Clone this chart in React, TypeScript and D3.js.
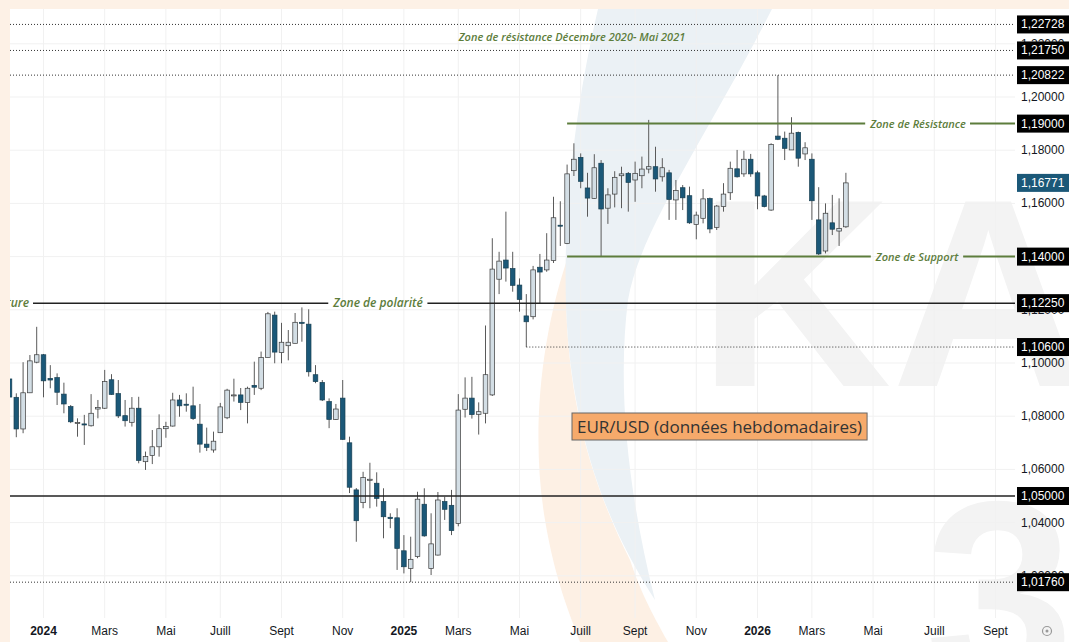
import { useEffect, useRef } from 'react';
import * as d3 from 'd3';

// Weekly EUR/USD candles, first bar = week of 27 Nov 2023
const firstWeek = new Date(Date.UTC(2023, 10, 27));

const opens = [
  1.0940, 1.0871, 1.0752, 1.0888, 1.1003, 1.1031, 1.0942, 1.0945, 1.0883, 1.0836,
  1.0774, 1.0771, 1.0764, 1.0827, 1.0830, 1.0937, 1.0885, 1.0802, 1.0777, 1.0830,
  1.0629, 1.0652, 1.0685, 1.0753, 1.0763, 1.0861, 1.0845, 1.0839, 1.0770, 1.0695,
  1.0673, 1.0738, 1.0794, 1.0877, 1.0880, 1.0851, 1.0916, 1.0905, 1.1021, 1.1180,
  1.1039, 1.1065, 1.1074, 1.1153, 1.1146, 1.0956, 1.0927, 1.0855, 1.0788, 1.0868,
  1.0700, 1.0523, 1.0475, 1.0559, 1.0548, 1.0479, 1.0420, 1.0418, 1.0294, 1.0228,
  1.0272, 1.0469, 1.0227, 1.0278, 1.0479, 1.0465, 1.0397, 1.0826, 1.0868, 1.0807,
  1.0811, 1.0880, 1.1315, 1.1387, 1.1355, 1.1293, 1.1177, 1.1174, 1.1360, 1.1350,
  1.1385, 1.1518, 1.1449, 1.1723, 1.1773, 1.1658, 1.1619, 1.1751, 1.1582, 1.1635,
  1.1704, 1.1713, 1.1688, 1.1704, 1.1729, 1.1738, 1.1700, 1.1715, 1.1613, 1.1659,
  1.1629, 1.1521, 1.1544, 1.1618, 1.1510, 1.1588, 1.1640, 1.1730, 1.1711, 1.1766,
  1.1715, 1.1628, 1.1575, 1.1853, 1.1845, 1.1801, 1.1867, 1.1786, 1.1766, 1.1538,
  1.1421, 1.1527, 1.1496, 1.1512,
];
const highs = [
  1.0951, 1.0886, 1.1003, 1.1030, 1.1136, 1.1034, 1.0992, 1.0961, 1.0926, 1.0842,
  1.0792, 1.0805, 1.0883, 1.0861, 1.0974, 1.0958, 1.0936, 1.0861, 1.0872, 1.0873,
  1.0667, 1.0748, 1.0807, 1.0779, 1.0888, 1.0880, 1.0886, 1.0911, 1.0846, 1.0757,
  1.0742, 1.0850, 1.0903, 1.0941, 1.0906, 1.0911, 1.1005, 1.1043, 1.1192, 1.1193,
  1.1151, 1.1124, 1.1188, 1.1209, 1.1202, 1.0992, 1.0936, 1.0867, 1.0846, 1.0936,
  1.0723, 1.0530, 1.0591, 1.0625, 1.0589, 1.0529, 1.0435, 1.0454, 1.0353, 1.0347,
  1.0516, 1.0529, 1.0435, 1.0515, 1.0497, 1.0523, 1.0883, 1.0946, 1.0948, 1.0852,
  1.1141, 1.1469, 1.1418, 1.1569, 1.1418, 1.1318, 1.1259, 1.1365, 1.1410, 1.1488,
  1.1625, 1.1608, 1.1746, 1.1826, 1.1788, 1.1715, 1.1785, 1.1763, 1.1657, 1.1721,
  1.1738, 1.1718, 1.1757, 1.1776, 1.1914, 1.1813, 1.1770, 1.1726, 1.1688, 1.1669,
  1.1663, 1.1569, 1.1654, 1.1622, 1.1594, 1.1676, 1.1757, 1.1801, 1.1798, 1.1786,
  1.1723, 1.1632, 1.1826, 1.2082, 1.1870, 1.1924, 1.1870, 1.1830, 1.1788, 1.1661,
  1.1600, 1.1632, 1.1619, 1.1715,
];
const lows = [
  1.0861, 1.0721, 1.0736, 1.0887, 1.0999, 1.0871, 1.0905, 1.0842, 1.0811, 1.0774,
  1.0723, 1.0692, 1.0761, 1.0792, 1.0827, 1.0880, 1.0793, 1.0761, 1.0761, 1.0623,
  1.0598, 1.0620, 1.0648, 1.0719, 1.0761, 1.0798, 1.0817, 1.0786, 1.0663, 1.0669,
  1.0663, 1.0737, 1.0789, 1.0855, 1.0823, 1.0773, 1.0880, 1.0898, 1.1021, 1.0999,
  1.0999, 1.1010, 1.1074, 1.1080, 1.0949, 1.0924, 1.0857, 1.0755, 1.0786, 1.0711,
  1.0511, 1.0328, 1.0454, 1.0454, 1.0460, 1.0341, 1.0379, 1.0222, 1.0209, 1.0176,
  1.0266, 1.0347, 1.0203, 1.0276, 1.0410, 1.0353, 1.0386, 1.0795, 1.0791, 1.0731,
  1.0773, 1.0876, 1.1259, 1.1306, 1.1268, 1.1193, 1.1060, 1.1164, 1.1224, 1.1343,
  1.1376, 1.1440, 1.1447, 1.1703, 1.1657, 1.1550, 1.1617, 1.1400, 1.1523, 1.1585,
  1.1582, 1.1569, 1.1606, 1.1657, 1.1713, 1.1644, 1.1682, 1.1538, 1.1538, 1.1575,
  1.1523, 1.1465, 1.1525, 1.1488, 1.1500, 1.1569, 1.1613, 1.1697, 1.1700, 1.1700,
  1.1578, 1.1585, 1.1572, 1.1838, 1.1763, 1.1801, 1.1738, 1.1763, 1.1538, 1.1406,
  1.1412, 1.1481, 1.1440, 1.1508,
];
const closes = [
  1.0872, 1.0752, 1.0888, 1.1008, 1.1031, 1.0933, 1.0936, 1.0890, 1.0846, 1.0779,
  1.0776, 1.0767, 1.0811, 1.0833, 1.0930, 1.0882, 1.0801, 1.0783, 1.0830, 1.0634,
  1.0648, 1.0685, 1.0753, 1.0761, 1.0861, 1.0839, 1.0843, 1.0791, 1.0695, 1.0683,
  1.0706, 1.0835, 1.0898, 1.0880, 1.0852, 1.0905, 1.0909, 1.1021, 1.1185, 1.1041,
  1.1078, 1.1078, 1.1153, 1.1149, 1.0967, 1.0930, 1.0861, 1.0788, 1.0827, 1.0713,
  1.0533, 1.0407, 1.0569, 1.0563, 1.0491, 1.0422, 1.0415, 1.0303, 1.0234, 1.0262,
  1.0488, 1.0350, 1.0320, 1.0485, 1.0450, 1.0370, 1.0823, 1.0868, 1.0806, 1.0817,
  1.0956, 1.1353, 1.1383, 1.1357, 1.1292, 1.1239, 1.1155, 1.1350, 1.1342, 1.1387,
  1.1546, 1.1516, 1.1711, 1.1766, 1.1683, 1.1620, 1.1734, 1.1579, 1.1632, 1.1698,
  1.1711, 1.1679, 1.1713, 1.1729, 1.1738, 1.1692, 1.1734, 1.1615, 1.1648, 1.1621,
  1.1527, 1.1556, 1.1617, 1.1504, 1.1590, 1.1635, 1.1732, 1.1700, 1.1766, 1.1711,
  1.1628, 1.1588, 1.1822, 1.1841, 1.1807, 1.1864, 1.1770, 1.1809, 1.1610, 1.1410,
  1.1563, 1.1503, 1.1506, 1.16771,
];

const priceTicks = [1.02, 1.04, 1.06, 1.08, 1.1, 1.12, 1.14, 1.16, 1.18, 1.2, 1.22];

const monthTicks = [
  '2024-01', '2024-03', '2024-05', '2024-07', '2024-09', '2024-11',
  '2025-01', '2025-03', '2025-05', '2025-07', '2025-09', '2025-11',
  '2026-01', '2026-03', '2026-05', '2026-07', '2026-09',
];
const monthLabels = [
  '2024', 'Mars', 'Mai', 'Juill', 'Sept', 'Nov',
  '2025', 'Mars', 'Mai', 'Juill', 'Sept', 'Nov',
  '2026', 'Mars', 'Mai', 'Juill', 'Sept',
];

// horizontal levels drawn on the chart (fromBar = first weekly bar the line starts at)
const levels = [
  { value: 1.22728, kind: 'dotted', fromBar: 0 },
  { value: 1.2175, kind: 'dotted', fromBar: 0 },
  { value: 1.20822, kind: 'dotted', fromBar: 0 },
  { value: 1.19, kind: 'green', fromBar: 82 },
  { value: 1.14, kind: 'green', fromBar: 82 },
  { value: 1.1225, kind: 'solid', fromBar: 0 },
  { value: 1.106, kind: 'dotted', fromBar: 76 },
  { value: 1.05, kind: 'solid', fromBar: 0 },
  { value: 1.0176, kind: 'dotted', fromBar: 0 },
];

const W = 1069;
const H = 642;

export default function App() {
  const svgRef = useRef<SVGSVGElement>(null);

  useEffect(() => {
    if (!svgRef.current) return;
    const svg = d3.select(svgRef.current);
    svg.selectAll('*').remove();

    const left = 10;
    const right = 1015;
    const top = 9;
    const bottom = 618;

    const bars = opens.map((o, i) => ({
      date: d3.utcWeek.offset(firstWeek, i),
      o, h: highs[i], l: lows[i], c: closes[i],
    }));

    const x = d3.scaleUtc()
      .domain([firstWeek, d3.utcWeek.offset(firstWeek, 150)])
      .range([9.5, 9.5 + 6.8 * 150]);
    const y = d3.scaleLinear().domain([1.0, 1.2]).range([629, 97]);
    const fmt = (v: number) => d3.format('.5f')(v).replace('.', ',');

    svg.append('rect').attr('width', W).attr('height', H).attr('fill', '#fff');

    // watermark
    svg.append('path')
      .attr('d', 'M585,215 C545,300 528,420 545,520 C555,580 570,615 580,642 L668,642 C650,610 640,590 630,560 C600,500 575,430 568,340 C563,280 570,245 585,215 Z')
      .attr('fill', '#fdf0e4');
    svg.append('path')
      .attr('d', 'M598,9 L772,9 C705,140 640,230 628,300 C618,380 625,480 655,600 C610,530 578,450 568,340 C560,240 572,120 598,9 Z')
      .attr('fill', '#ebf1f5');
    svg.append('text')
      .attr('x', 698).attr('y', 386)
      .style('font-family', '"Liberation Sans", Arial, sans-serif')
      .style('font-weight', 'bold').style('font-size', '268px')
      .attr('fill', '#f3f3f3').text('KA');
    svg.append('text')
      .attr('x', 925).attr('y', 688)
      .style('font-family', '"Liberation Sans", Arial, sans-serif')
      .style('font-weight', 'bold').style('font-size', '268px')
      .attr('fill', '#f3f3f3').text('3');

    // grid
    const tickDates = monthTicks.map(m => {
      const [yy, mm] = m.split('-').map(Number);
      return d3.utcMonday.ceil(new Date(Date.UTC(yy, mm - 1, 1)));
    });
    svg.append('g').selectAll('line').data(tickDates).enter().append('line')
      .attr('x1', d => x(d)).attr('x2', d => x(d))
      .attr('y1', top).attr('y2', bottom)
      .attr('stroke', '#f1f1f1');
    svg.append('g').selectAll('line').data(priceTicks).enter().append('line')
      .attr('x1', left).attr('x2', right)
      .attr('y1', d => y(d)).attr('y2', d => y(d))
      .attr('stroke', '#f1f1f1');

    const plot = svg.append('g');
    svg.append('clipPath').attr('id', 'plotclip')
      .append('rect').attr('x', left).attr('y', top).attr('width', right - left).attr('height', bottom - top);
    plot.attr('clip-path', 'url(#plotclip)');

    // candles
    const cw = 4.6;
    const candle = plot.append('g').selectAll('g').data(bars).enter().append('g');
    candle.append('line')
      .attr('x1', d => x(d.date)).attr('x2', d => x(d.date))
      .attr('y1', d => y(d.h)).attr('y2', d => y(d.l))
      .attr('stroke', '#5a5a5a').attr('stroke-width', 1);
    candle.append('rect')
      .attr('x', d => x(d.date) - cw / 2)
      .attr('y', d => y(Math.max(d.o, d.c)))
      .attr('width', cw)
      .attr('height', d => Math.max(1, Math.abs(y(d.o) - y(d.c))))
      .attr('fill', d => d.c >= d.o ? '#d3dee5' : '#1b5878')
      .attr('stroke', d => d.c >= d.o ? '#3a3a3a' : '#173f52')
      .attr('stroke-width', 0.7);

    // level lines
    const lineLayer = plot.append('g');
    const labelFont = '"Open Sans", "DejaVu Sans", sans-serif';
    const addLabel = (txt: string, cx: number, v: number, size: number, anchor = 'middle') => {
      const t = lineLayer.append('text')
        .attr('x', cx).attr('y', y(v) + 4)
        .attr('text-anchor', anchor)
        .attr('fill', '#5d7d3c')
        .style('font-family', labelFont)
        .style('font-style', 'italic').style('font-weight', 600)
        .style('font-size', `${size}px`)
        .text(txt);
      const b = (t.node() as SVGTextElement).getBBox();
      return [b.x - 4, b.x + b.width + 4];
    };

    const gaps: Record<number, number[][]> = {};
    gaps[1.19] = [addLabel('Zone de Résistance', 918, 1.19, 11)];
    gaps[1.14] = [addLabel('Zone de Support', 917, 1.14, 11)];
    gaps[1.1225] = [addLabel('Zone de rupture', 29, 1.1225, 12, 'end'), addLabel('Zone de polarité', 378, 1.1225, 12)];

    levels.forEach(lv => {
      const x0 = lv.fromBar === 0 ? left : x(bars[lv.fromBar].date);
      const segs: number[][] = [];
      let start = x0;
      (gaps[lv.value] || []).sort((a, b) => a[0] - b[0]).forEach(([g0, g1]) => {
        if (g0 > start) segs.push([start, g0]);
        start = Math.max(start, g1);
      });
      segs.push([start, right]);
      segs.forEach(([s0, s1]) => {
        const ln = lineLayer.append('line')
          .attr('x1', s0).attr('x2', s1)
          .attr('y1', y(lv.value)).attr('y2', y(lv.value));
        if (lv.kind === 'dotted') {
          ln.attr('stroke', '#333').attr('stroke-width', 1).attr('stroke-dasharray', '1,2');
        } else if (lv.kind === 'green') {
          ln.attr('stroke', '#5d7d3c').attr('stroke-width', 2);
        } else {
          ln.attr('stroke', '#222').attr('stroke-width', 1.5);
        }
      });
    });

    // title of the top zone
    lineLayer.append('text')
      .attr('x', 572).attr('y', (y(1.22728) + y(1.2175)) / 2 + 4)
      .attr('text-anchor', 'middle')
      .attr('fill', '#5d7d3c')
      .style('font-family', labelFont)
      .style('font-style', 'italic').style('font-weight', 600)
      .style('font-size', '11px')
      .text('Zone de résistance Décembre 2020- Mai 2021');

    // peach frame strips
    svg.append('rect').attr('x', 0).attr('y', 0).attr('width', W).attr('height', top).attr('fill', '#fdf1e6');
    svg.append('rect').attr('x', 0).attr('y', 0).attr('width', left).attr('height', H).attr('fill', '#fdf1e6');

    // price axis
    const axisFont = '"Liberation Sans", Arial, sans-serif';
    svg.append('g').selectAll('text').data(priceTicks).enter().append('text')
      .attr('x', 1021).attr('y', d => y(d) + 4)
      .attr('fill', '#131722')
      .style('font-family', axisFont).style('font-size', '12px')
      .text(d => fmt(d));

    const tags = levels.map(l => ({ v: l.value, fill: '#000' }));
    tags.push({ v: closes[closes.length - 1], fill: '#1b5878' });
    const tag = svg.append('g').selectAll('g').data(tags).enter().append('g');
    tag.append('rect')
      .attr('x', 1017).attr('y', d => y(d.v) - 9)
      .attr('width', 60).attr('height', 18)
      .attr('fill', d => d.fill);
    tag.append('text')
      .attr('x', 1021).attr('y', d => y(d.v) + 4)
      .attr('fill', '#fff')
      .style('font-family', axisFont).style('font-size', '12px')
      .text(d => fmt(d.v));

    // time axis
    svg.append('g').selectAll('text').data(tickDates).enter().append('text')
      .attr('x', d => x(d)).attr('y', 635)
      .attr('text-anchor', 'middle')
      .attr('fill', '#131722')
      .style('font-family', axisFont).style('font-size', '12px')
      .style('font-weight', (_, i) => /^\d{4}$/.test(monthLabels[i]) ? 'bold' : 'normal')
      .text((_, i) => monthLabels[i]);

    svg.append('circle').attr('cx', 1047).attr('cy', 631).attr('r', 4.5)
      .attr('fill', 'none').attr('stroke', '#999').attr('stroke-width', 1.2);
    svg.append('circle').attr('cx', 1047).attr('cy', 631).attr('r', 1.5).attr('fill', '#999');

    // caption box
    const cap = svg.append('g');
    const capText = cap.append('text')
      .attr('x', 577).attr('y', 433)
      .attr('fill', '#333')
      .style('font-family', '"Open Sans", "DejaVu Sans", sans-serif')
      .style('font-size', '17px')
      .text('EUR/USD (données hebdomadaires)');
    const cb = (capText.node() as SVGTextElement).getBBox();
    cap.insert('rect', 'text')
      .attr('x', cb.x - 5).attr('y', 413)
      .attr('width', cb.width + 10).attr('height', 27)
      .attr('fill', '#f6aa6b').attr('stroke', '#666').attr('stroke-width', 1);
  }, []);

  return (
    <div style={{ position: 'fixed', left: 0, top: 0 }}>
      <svg ref={svgRef} width={W} height={H} style={{ display: 'block' }} />
    </div>
  );
}
